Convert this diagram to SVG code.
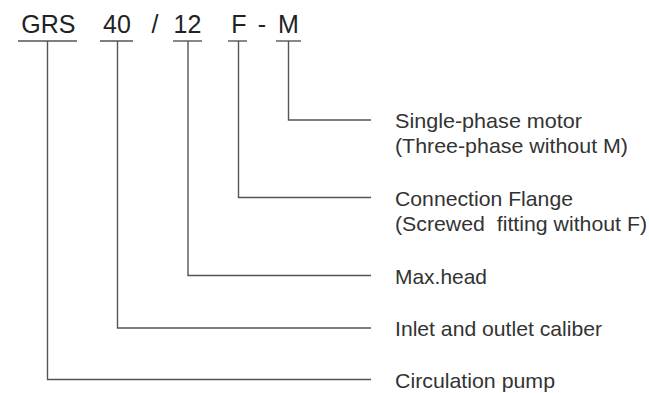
<svg xmlns="http://www.w3.org/2000/svg" width="649" height="393" viewBox="0 0 649 393">
<style>
.code{font-family:"Liberation Sans",Arial,sans-serif;font-size:25px;fill:#222;text-anchor:middle}
.lbl{font-family:"Liberation Sans",Arial,sans-serif;font-size:21px;fill:#333;white-space:pre}
.ul{stroke:#555;stroke-width:1.4;fill:none}
.con{stroke:#555;stroke-width:1.4;fill:none}
</style>
<rect width="649" height="393" fill="#fff"/>
<g id="code-GRS"><text class="code" x="48.3" y="33">GRS</text><line class="ul" x1="18" y1="41" x2="77" y2="41"/></g>
<g id="code-40"><text class="code" x="117" y="33">40</text><line class="ul" x1="100" y1="41" x2="133" y2="41"/></g>
<g id="code-slash"><text class="code" x="155" y="33">/</text></g>
<g id="code-12"><text class="code" x="187.5" y="33">12</text><line class="ul" x1="173" y1="41" x2="202" y2="41"/></g>
<g id="code-F"><text class="code" x="239" y="33">F</text><line class="ul" x1="228" y1="41" x2="247" y2="41"/></g>
<g id="code-dash"><text class="code" x="262" y="33">-</text></g>
<g id="code-M"><text class="code" x="288.5" y="33">M</text><line class="ul" x1="276" y1="41" x2="301" y2="41"/></g>
<g id="connectors">
<polyline class="con" points="288.5,41 288.5,120 371,120"/>
<polyline class="con" points="238.5,41 238.5,197.5 371,197.5"/>
<polyline class="con" points="188,41 188,275.5 371,275.5"/>
<polyline class="con" points="117.5,41 117.5,328 371,328"/>
<polyline class="con" points="47.5,41 47.5,379.5 371,379.5"/>
</g>
<g id="label-motor"><text class="lbl" x="395" y="128" textLength="187" lengthAdjust="spacingAndGlyphs">Single-phase motor</text><text class="lbl" x="395" y="153" textLength="233" lengthAdjust="spacingAndGlyphs">(Three-phase without M)</text></g>
<g id="label-flange"><text class="lbl" x="395" y="205.5" textLength="178" lengthAdjust="spacingAndGlyphs">Connection Flange</text><text class="lbl" x="395" y="230.5" textLength="252" lengthAdjust="spacingAndGlyphs">(Screwed  fitting without F)</text></g>
<g id="label-head"><text class="lbl" x="395" y="283.5" textLength="92" lengthAdjust="spacingAndGlyphs">Max.head</text></g>
<g id="label-caliber"><text class="lbl" x="395" y="336" textLength="207" lengthAdjust="spacingAndGlyphs">Inlet and outlet caliber</text></g>
<g id="label-pump"><text class="lbl" x="395" y="387.5" textLength="160" lengthAdjust="spacingAndGlyphs">Circulation pump</text></g>
</svg>
